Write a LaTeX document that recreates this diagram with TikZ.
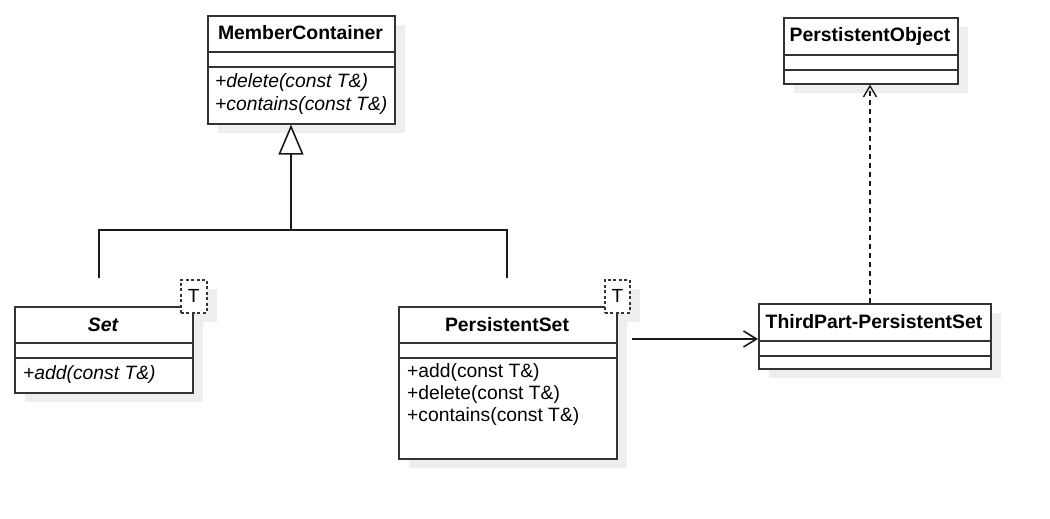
\documentclass[tikz,border=0pt]{standalone}
\usepackage{fontspec}
\setmainfont{Liberation Sans}
\usetikzlibrary{arrows.meta}
\definecolor{shad}{HTML}{EEEEEE}
\definecolor{ln}{HTML}{333333}
\tikzset{
  cls/.style={draw=ln, line width=1.6pt, fill=white, inner sep=0pt, anchor=north west},
  sepl/.style={draw=ln, line width=1.1pt},
  tbox/.style={draw=ln, line width=1.6pt, dash pattern=on 3pt off 2.5pt, fill=white, inner sep=0pt, anchor=north west},
  tlab/.style={font=\fontsize{19}{21}\selectfont, inner sep=0pt},
  ttl/.style={font=\fontsize{19.4}{22}\selectfont\bfseries, inner sep=0pt},
  meth/.style={font=\fontsize{19.3}{22}\selectfont, inner sep=0pt, anchor=west},
  conn/.style={draw=black!90, line width=1.6pt},
}
\begin{document}
\begin{tikzpicture}[x=1pt,y=-1pt]
\useasboundingbox (0,0) rectangle (1050,519);
% shadows
\fill[shad] (218,25) rectangle (405,133);
\fill[shad] (25,316) rectangle (203,402);
\fill[shad] (191,289) rectangle (217,322);
\fill[shad] (409,316) rectangle (627,468);
\fill[shad] (615,289) rectangle (640,322);
\fill[shad] (769,313) rectangle (1001,378);
\fill[shad] (794,27) rectangle (968,93);
% MemberContainer
\node[cls, minimum width=187pt, minimum height=108pt] (mc) at (207,15) {};
\draw[sepl] (207,52) -- (394,52);
\draw[sepl] (207,67) -- (394,67);
\node[ttl] (mct) at (300.5,33) {MemberContainer};
\node[meth] (mcm1) at (215,83) {\itshape +delete(const T\&)};
\node[meth] (mcm2) at (215,106) {\itshape +contains(const T\&)};
% Set
\node[cls, minimum width=178pt, minimum height=86pt] (set) at (14,306) {};
\draw[sepl] (14,343) -- (192,343);
\draw[sepl] (14,358) -- (192,358);
\node[ttl] (sett) at (103,325) {\itshape Set};
\node[meth] (setm1) at (23,375) {\itshape +add(const T\&)};
\node[tbox, minimum width=26pt, minimum height=33pt] (sett2) at (180,279) {};
\node[tlab] (setT) at (sett2.center) {T};
% PersistentSet
\node[cls, minimum width=218pt, minimum height=152pt] (ps) at (398,306) {};
\draw[sepl] (398,343) -- (616,343);
\draw[sepl] (398,358) -- (616,358);
\node[ttl] (pst) at (507,325) {PersistentSet};
\node[meth] (psm1) at (407,373) {+add(const T\&)};
\node[meth] (psm2) at (407,395) {+delete(const T\&)};
\node[meth] (psm3) at (407,417) {+contains(const T\&)};
\node[tbox, minimum width=25pt, minimum height=33pt] (pst2) at (604,279) {};
\node[tlab] (psT) at (pst2.center) {T};
% ThirdPart-PersistentSet
\node[cls, minimum width=232pt, minimum height=65pt] (tp) at (758,303) {};
\draw[sepl] (758,341) -- (990,341);
\draw[sepl] (758,356) -- (990,356);
\node[ttl] (tpt) at (874,322) {ThirdPart-PersistentSet};
% PerstistentObject
\node[cls, minimum width=174pt, minimum height=66pt] (po) at (783,17) {};
\draw[sepl] (783,55) -- (957,55);
\draw[sepl] (783,70) -- (957,70);
\node[ttl] (pot) at (870,36) {PerstistentObject};
% connectors
\coordinate (gj) at (291,230);
\coordinate (setTop) at (99,278);
\coordinate (psTop) at (507,278);
\draw[conn] (setTop) -- (setTop |- gj) -- (psTop |- gj) -- (psTop);
\draw[conn, -{Triangle[open, length=30pt, width=25pt, line width=1.6pt, fill=white]}] (gj) -- (gj |- mc.south);
\coordinate (as) at (632,339);
\draw[conn, -{Straight Barb[length=13pt, width=16pt, line width=1.6pt]}] (as) -- (as -| tp.west);
\coordinate (dx) at (870,0);
\draw[conn, line width=1.4pt, dash pattern=on 5pt off 4pt, -{Straight Barb[length=11pt, width=13pt, line width=1.4pt]}] (dx |- tp.north) -- (dx |- po.south);
\end{tikzpicture}
\end{document}
